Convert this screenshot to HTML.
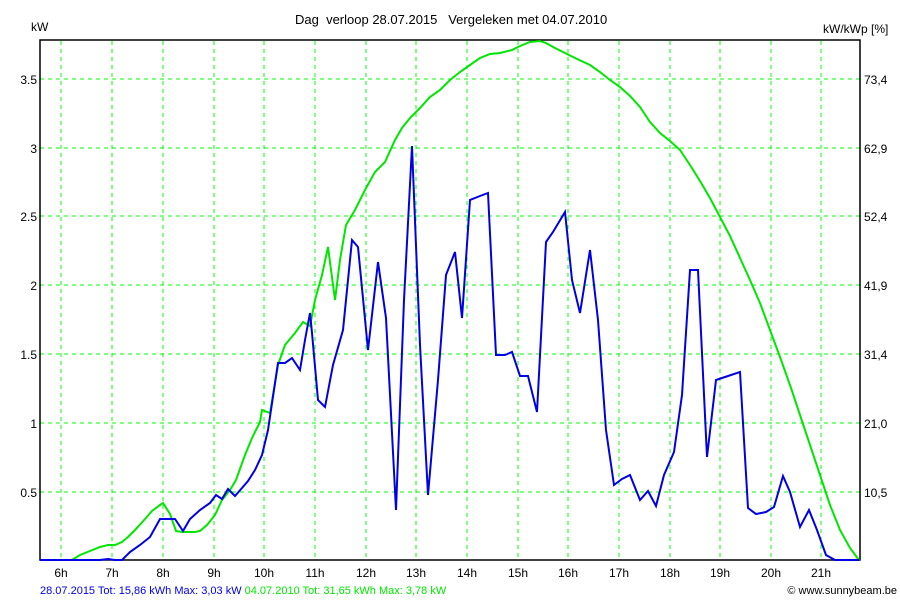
<!DOCTYPE html>
<html><head><style>
body{margin:0;background:#fff;width:900px;height:600px;overflow:hidden}
svg text{font-family:"Liberation Sans",Arial,sans-serif;font-size:12px}
</style></head><body>
<svg width="900" height="600" viewBox="0 0 900 600">
<rect width="900" height="600" fill="#fff"/>
<g stroke="#00ff00" stroke-width="1" stroke-dasharray="4,4">
<line x1="61" y1="41" x2="61" y2="560"/><line x1="112" y1="41" x2="112" y2="560"/><line x1="163" y1="41" x2="163" y2="560"/><line x1="214" y1="41" x2="214" y2="560"/><line x1="264" y1="41" x2="264" y2="560"/><line x1="315" y1="41" x2="315" y2="560"/><line x1="366" y1="41" x2="366" y2="560"/><line x1="416" y1="41" x2="416" y2="560"/><line x1="467" y1="41" x2="467" y2="560"/><line x1="518" y1="41" x2="518" y2="560"/><line x1="568" y1="41" x2="568" y2="560"/><line x1="619" y1="41" x2="619" y2="560"/><line x1="670" y1="41" x2="670" y2="560"/><line x1="720" y1="41" x2="720" y2="560"/><line x1="771" y1="41" x2="771" y2="560"/><line x1="821" y1="41" x2="821" y2="560"/>
<line x1="40" y1="79" x2="860" y2="79"/><line x1="40" y1="148" x2="860" y2="148"/><line x1="40" y1="216" x2="860" y2="216"/><line x1="40" y1="285" x2="860" y2="285"/><line x1="40" y1="354" x2="860" y2="354"/><line x1="40" y1="423" x2="860" y2="423"/><line x1="40" y1="492" x2="860" y2="492"/>
</g>
<rect x="40" y="40" width="820" height="520" fill="none" stroke="#000" stroke-width="1.5"/>
<polyline fill="none" stroke="#00e600" stroke-width="2" points="40,560 72,560 80,555 90,551 100,547 108,545 115,545 122,542 128,537 135,530 145,519 152,511 160,505 163,503 170,514 176,531 182,532 195,532 200,531 207,525 215,515 222,500 230,490 236,480 245,455 252,438 260,422 262,410 270,413 278,365 285,345 295,333 303,322 310,326 315,300 322,275 328,247 335,300 340,260 346,225 355,210 365,190 375,172 385,162 395,140 402,128 410,118 420,108 430,97 440,90 450,80 460,72 470,65 480,58 490,54 500,53 512,50 520,46 530,42 540,41 546,43 555,48 565,53 575,58 590,65 600,72 610,80 620,87 630,96 640,107 650,122 660,133 670,141 680,150 690,165 700,181 710,198 720,217 730,236 740,258 750,280 760,303 770,330 780,357 790,385 800,415 810,445 820,475 830,505 840,530 850,548 859,560"/>
<polyline fill="none" stroke="#0000e6" stroke-width="2" points="40,560 100,560 108,559 115,560 122,560 130,552 140,545 150,537 160,519 165,519 175,519 183,531 190,519 200,510 210,503 216,495 222,499 228,489 235,496 242,488 248,481 255,470 262,455 268,430 278,363 285,363 292,358 300,370 305,340 310,313 312,333 318,400 325,407 333,365 343,330 352,240 358,247 368,350 378,262 386,318 396,510 404,300 412,146 420,345 428,495 438,380 446,275 455,252 462,318 470,200 480,196 488,193 496,355 505,355 512,352 520,376 528,376 537,412 546,242 553,232 565,212 572,280 580,313 590,250 598,320 606,430 614,485 622,479 630,475 640,500 648,491 656,506 664,475 674,452 682,395 690,270 698,270 707,457 716,380 725,377 740,372 748,508 756,514 766,512 774,507 783,476 790,492 800,527 809,510 817,530 826,555 835,560 859,560"/>
<g fill="#000" text-anchor="end">
<text x="37" y="84">3.5</text><text x="37" y="153">3</text><text x="37" y="221">2.5</text><text x="37" y="290">2</text><text x="37" y="359">1.5</text><text x="37" y="428">1</text><text x="37" y="497">0.5</text>
</g>
<g fill="#000">
<text x="864" y="84">73,4</text><text x="864" y="153">62,9</text><text x="864" y="221">52,4</text><text x="864" y="290">41,9</text><text x="864" y="359">31,4</text><text x="864" y="428">21,0</text><text x="864" y="497">10,5</text>
<text x="31" y="31">kW</text>
<text x="823" y="33">kW/kWp [%]</text>
<text x="295" y="24" style="font-size:13px;white-space:pre" xml:space="preserve">Dag  verloop 28.07.2015   Vergeleken met 04.07.2010</text>
</g>
<g fill="#000" text-anchor="middle">
<text x="61" y="577">6h</text><text x="112" y="577">7h</text><text x="163" y="577">8h</text><text x="214" y="577">9h</text><text x="264" y="577">10h</text><text x="315" y="577">11h</text><text x="366" y="577">12h</text><text x="416" y="577">13h</text><text x="467" y="577">14h</text><text x="518" y="577">15h</text><text x="568" y="577">16h</text><text x="619" y="577">17h</text><text x="670" y="577">18h</text><text x="720" y="577">19h</text><text x="771" y="577">20h</text><text x="821" y="577">21h</text>
</g>
<text x="40" y="594" style="font-size:11px"><tspan fill="#0000e6">28.07.2015 Tot: 15,86 kWh Max: 3,03 kW </tspan><tspan fill="#00e600">04.07.2010 Tot: 31,65 kWh Max: 3,78 kW</tspan></text>
<text x="897" y="594" text-anchor="end" style="font-size:11px" fill="#000">© www.sunnybeam.be</text>
</svg>
</body></html>
